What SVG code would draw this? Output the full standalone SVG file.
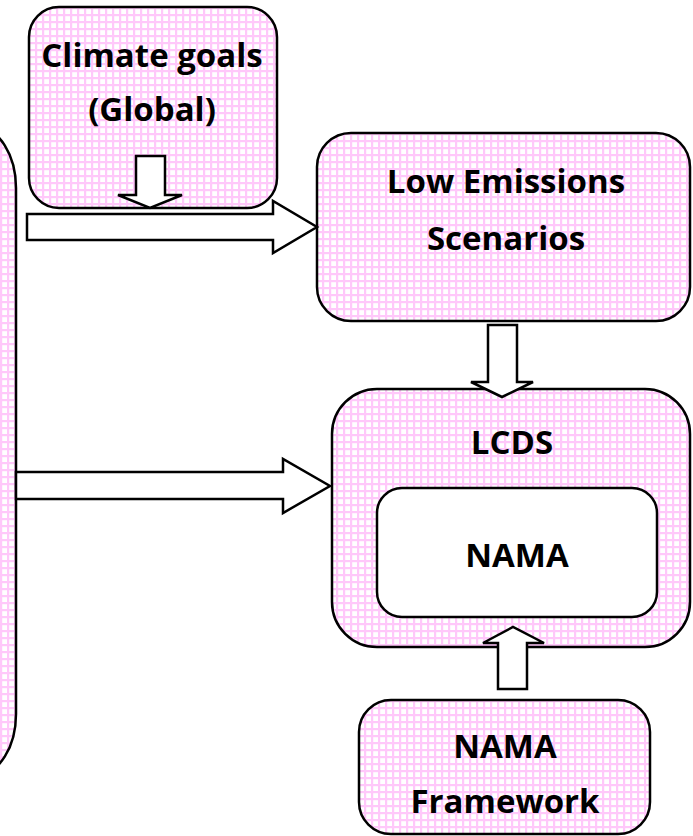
<svg xmlns="http://www.w3.org/2000/svg" width="693" height="836" viewBox="0 0 693 836">
<defs>
<pattern id="grid" width="7" height="7" patternUnits="userSpaceOnUse">
<rect width="7" height="7" fill="#ffffff"/>
<rect width="2.2" height="7" fill="#ffc8fa"/>
<rect width="7" height="2.2" fill="#ffc8fa"/>
</pattern>
</defs>
<style>
.box{fill:url(#grid);stroke:#000;stroke-width:2.5}
.inner{fill:#fff;stroke:#000;stroke-width:2.5}
.arr{fill:#fff;stroke:#000;stroke-width:2.5;stroke-linejoin:miter}
.t{font-family:"Open Sans","Liberation Sans",Arial,sans-serif;font-weight:bold;font-size:33px;fill:#000;text-anchor:middle}
</style>
<rect width="693" height="836" fill="#fff"/>
<g id="left-box">
<rect class="box" x="-60" y="128" width="76" height="646" rx="60" ry="60"/>
</g>
<g id="climate-goals">
<rect class="box" x="29" y="7" width="248" height="201" rx="30" ry="30"/>
<text class="t" x="152" y="67">Climate goals</text>
<text class="t" x="152" y="121">(Global)</text>
</g>
<g id="low-emissions">
<rect class="box" x="317" y="133" width="373" height="188" rx="34" ry="34"/>
<text class="t" x="506" y="193">Low Emissions</text>
<text class="t" x="506" y="250">Scenarios</text>
</g>
<g id="lcds">
<rect class="box" x="332" y="389" width="358" height="258" rx="45" ry="45"/>
<text class="t" x="512" y="454">LCDS</text>
</g>
<g id="nama">
<rect class="inner" x="377" y="488" width="280" height="129" rx="25" ry="25"/>
<text class="t" x="517" y="567">NAMA</text>
</g>
<g id="nama-framework">
<rect class="box" x="359" y="700" width="291" height="134" rx="32" ry="32"/>
<text class="t" x="505" y="758">NAMA</text>
<text class="t" x="505" y="813">Framework</text>
</g>
<g id="connectors">
<polygon class="arr" points="136,156 165,156 165,195 182,195 150,208 118,195 136,195"/>
<polygon class="arr" points="27,214 273,214 273,201 317,227 273,253 273,240 27,240"/>
<polygon class="arr" points="16,472 283,472 283,459 330,486 283,513 283,499 16,499"/>
<polygon class="arr" points="488,325 517,325 517,382 533,382 502,397 471,382 488,382"/>
<polygon class="arr" points="498,689 527,689 527,643 544,643 513,627 483,643 498,643"/>
</g>
</svg>
